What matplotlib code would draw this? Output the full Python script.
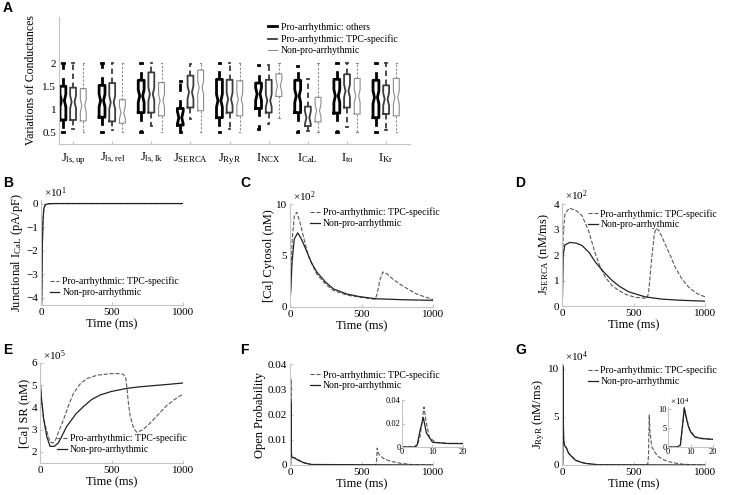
import matplotlib
matplotlib.use('Agg')
import matplotlib.pyplot as plt

plt.rcParams['font.family'] = 'Liberation Serif'
plt.rcParams['mathtext.fontset'] = 'custom'
plt.rcParams['mathtext.rm'] = 'Liberation Serif'
plt.rcParams['mathtext.it'] = 'Liberation Serif:italic'

# ---------------- panel A: box plot data ----------------
group_labels = [r'J$_{\mathrm{ls,up}}$', r'J$_{\mathrm{ls,rel}}$', r'J$_{\mathrm{ls,lk}}$',
                r'J$_{\mathrm{SERCA}}$', r'J$_{\mathrm{RyR}}$', r'I$_{\mathrm{NCX}}$',
                r'I$_{\mathrm{CaL}}$', r'I$_{\mathrm{to}}$', r'I$_{\mathrm{Kr}}$']
series_names = ['Pro-arrhythmic: others', 'Pro-arrhythmic: TPC-specific', 'Non-pro-arrhythmic']

med_oth = [1.19, 1.19, 1.29, 0.82, 1.19, 1.33, 1.29, 1.29, 1.26]
q1_oth = [0.77, 0.83, 0.93, 0.66, 0.82, 1.02, 0.93, 0.92, 0.82]
q3_oth = [1.50, 1.52, 1.63, 1.02, 1.65, 1.57, 1.63, 1.65, 1.63]
lo_oth = [0.50, 0.50, 0.50, 0.50, 0.50, 0.57, 0.50, 0.50, 0.50]
hi_oth = [2.00, 2.00, 2.00, 1.62, 2.00, 1.97, 1.94, 2.00, 2.00]

med_tpc = [1.16, 1.15, 1.33, 1.37, 1.22, 1.19, 0.82, 1.40, 1.22]
q1_tpc = [0.77, 0.74, 0.93, 1.04, 0.93, 0.93, 0.64, 1.04, 0.90]
q3_tpc = [1.47, 1.57, 1.80, 1.73, 1.64, 1.64, 1.06, 1.76, 1.52]
lo_tpc = [0.57, 0.55, 0.64, 0.79, 0.57, 0.68, 0.54, 0.61, 0.55]
hi_tpc = [2.00, 2.00, 2.00, 1.98, 2.00, 1.97, 1.65, 2.00, 2.00]

med_non = [1.08, 0.93, 1.19, 1.47, 1.22, 1.51, 0.97, 1.29, 1.26]
q1_non = [0.75, 0.70, 0.86, 0.97, 0.86, 1.28, 0.73, 0.90, 0.86]
q3_non = [1.45, 1.21, 1.58, 1.85, 1.62, 1.77, 1.26, 1.67, 1.67]
lo_non = [0.50, 0.50, 0.50, 0.50, 0.50, 0.82, 0.50, 0.52, 0.50]
hi_non = [2.00, 2.00, 2.00, 2.00, 2.00, 2.00, 2.00, 2.00, 2.00]

notch_half = [0.14, 0.14, 0.14, 0.14, 0.14, 0.14, 0.14, 0.14, 0.14]

# ---------------- time courses (t in ms) ----------------
leg_names = ['Pro-arrhythmic: TPC-specific', 'Non-pro-arrhythmic']

# B: junctional I_CaL (x10 pA/pF)
tB_tpc = [0, 2, 4, 6, 8, 10, 14, 20, 30, 50, 100, 1000]
vB_tpc = [0, -1.4, -4.2, -3.6, -2.7, -1.8, -0.8, -0.25, -0.06, -0.01, 0, 0]
tB_non = [0, 2, 3.5, 6, 8, 10, 14, 20, 30, 50, 100, 1000]
vB_non = [0, -1.5, -4.3, -3.5, -2.5, -1.6, -0.7, -0.2, -0.05, -0.01, 0, 0]

# C: [Ca] cytosol (x100 nM)
tC_tpc = [0, 5, 15, 30, 47, 70, 100, 130, 187, 250, 304, 400, 490, 595, 610, 630, 650,
          680, 720, 771, 830, 888, 950, 1000]
vC_tpc = [0.5, 2.0, 6.5, 8.8, 9.2, 8.2, 6.5, 4.9, 3.2, 2.2, 1.6, 1.15, 0.95, 0.75, 1.3,
          2.7, 3.4, 3.2, 2.7, 2.2, 1.7, 1.25, 0.95, 0.75]
tC_non = [0, 5, 15, 30, 54, 80, 117, 150, 187, 250, 304, 400, 490, 600, 800, 1000]
vC_non = [0.5, 1.5, 4.5, 6.6, 7.2, 6.6, 5.4, 4.3, 3.4, 2.4, 1.75, 1.25, 1.0, 0.8, 0.7, 0.65]

# D: J_SERCA (x100 nM/ms)
tD_tpc = [0, 3, 8, 20, 50, 100, 140, 186, 233, 270, 302, 350, 395, 450, 512, 593, 605,
          615, 628, 645, 656, 680, 721, 760, 791, 840, 884, 940, 1000]
vD_tpc = [0, 0.3, 2.8, 3.6, 3.85, 3.75, 3.55, 2.96, 2.05, 1.5, 1.14, 0.8, 0.62, 0.45,
          0.34, 0.3, 0.5, 1.1, 1.9, 2.8, 3.05, 2.95, 2.44, 1.95, 1.53, 1.05, 0.75, 0.5, 0.36]
tD_non = [0, 3, 8, 20, 55, 100, 140, 190, 233, 290, 349, 400, 465, 581, 700, 814, 1000]
vD_non = [0, 0.3, 2.0, 2.4, 2.5, 2.47, 2.38, 2.1, 1.73, 1.35, 1.01, 0.78, 0.56, 0.36,
          0.27, 0.23, 0.19]

# E: [Ca] SR (x1e5 nM)
tE_tpc = [0, 10, 25, 47, 70, 90, 110, 130, 164, 200, 234, 280, 327, 400, 490, 560, 584,
          600, 607, 618, 631, 655, 678, 720, 771, 830, 888, 950, 1000]
vE_tpc = [5.3, 4.4, 3.5, 2.95, 2.45, 2.4, 2.55, 2.9, 3.44, 4.1, 4.63, 5.05, 5.3, 5.45,
          5.52, 5.52, 5.49, 5.3, 4.93, 4.2, 3.6, 3.05, 2.88, 3.0, 3.3, 3.7, 4.1, 4.4, 4.6]
tE_non = [0, 10, 25, 47, 70, 100, 128, 160, 187, 250, 304, 360, 420, 500, 607, 700, 771,
          900, 1000]
vE_non = [5.3, 4.4, 3.5, 2.7, 2.25, 2.25, 2.4, 2.8, 3.15, 3.7, 4.04, 4.35, 4.56, 4.72,
          4.86, 4.93, 4.97, 5.04, 5.1]

# F: RyR open probability
tF_tpc = [0, 4, 5, 6, 7.2, 8, 9, 11, 15, 30, 60, 100, 150, 600, 605, 610, 615, 625, 654,
          700, 771, 850, 1000]
vF_tpc = [0, 0, 0.001, 0.01, 0.034, 0.02, 0.008, 0.004, 0.003, 0.003, 0.002, 0.0009,
          0.0002, 0, 0.001, 0.0067, 0.005, 0.004, 0.0026, 0.0015, 0.0007, 0.0002, 0]
tF_non = [0, 4, 5, 6, 7, 8, 10, 15, 30, 60, 100, 150, 1000]
vF_non = [0, 0, 0.002, 0.015, 0.025, 0.012, 0.004, 0.003, 0.0028, 0.0018, 0.0008, 0.0002, 0]

# G: J_RyR (x1e4 nM/ms)
tG_tpc = [0, 4, 5.5, 6.5, 7.3, 8, 9, 10, 12, 15, 20, 30, 47, 93, 130, 163, 250, 580, 600,
          605, 610, 615, 628, 650, 674, 710, 744, 800, 837, 900, 1000]
vG_tpc = [0, 0, 0.4, 5.5, 10.4, 8.3, 5.8, 4.2, 2.7, 2.3, 2.0, 1.8, 1.2, 0.5, 0.3, 0.17,
          0.03, 0, 0.1, 1.0, 5.2, 3.5, 1.9, 1.3, 0.87, 0.55, 0.35, 0.18, 0.1, 0.04, 0]
tG_non = [0, 4, 5.5, 6.5, 7.2, 8, 9, 10, 12, 15, 20, 30, 47, 93, 130, 163, 250, 1000]
vG_non = [0, 0, 0.5, 6, 10.2, 8, 5.5, 4, 2.6, 2.2, 2.0, 1.8, 1.2, 0.5, 0.3, 0.17, 0.03, 0]

W, H = 745, 495
fig = plt.figure(figsize=(W / 100, H / 100), dpi=100)
SPINE = '#c4c4c4'
C_DASH = '#5a5a5a'
C_SOLID = '#222222'


def px_axes(x0, y0, x1, y1):
    return fig.add_axes([x0 / W, 1 - y1 / H, (x1 - x0) / W, (y1 - y0) / H])


def style(ax, fs=8):
    for s in ['top', 'right']:
        ax.spines[s].set_visible(False)
    for s in ['left', 'bottom']:
        ax.spines[s].set_color(SPINE)
        ax.spines[s].set_linewidth(0.8)
    ax.tick_params(direction='in', length=2, color=SPINE, labelsize=fs, pad=2)


# ---- A ----
axA = px_axes(59, 17, 410, 144)
style(axA)
colors = ['#000000', '#3c3c3c', '#8c8c8c']
lws = [2.0, 1.3, 0.8]
dashes = [(0, (3, 3)), (0, (3, 2)), (0, (2, 1.5))]
offsets = [-0.26, 0, 0.26]
stats_sets = [(med_oth, q1_oth, q3_oth, lo_oth, hi_oth),
              (med_tpc, q1_tpc, q3_tpc, lo_tpc, hi_tpc),
              (med_non, q1_non, q3_non, lo_non, hi_non)]
for k, (med, q1, q3, lo, hi) in enumerate(stats_sets):
    stats = []
    for i in range(9):
        stats.append(dict(med=med[i], q1=q1[i], q3=q3[i], whislo=lo[i], whishi=hi[i],
                          cilo=max(q1[i], med[i] - notch_half[i]),
                          cihi=min(q3[i], med[i] + notch_half[i]), fliers=[]))
    c, lw = colors[k], lws[k]
    axA.bxp(stats, positions=[i + 1 + offsets[k] for i in range(9)], widths=0.15,
            shownotches=True, showfliers=False, capwidths=0.035,
            boxprops=dict(color=c, lw=lw), medianprops=dict(color=c, lw=0),
            whiskerprops=dict(color=c, lw=lw, ls=dashes[k]),
            capprops=dict(color=c, lw=lw))
    axA.plot([], [], color=c, lw=lw, label=series_names[k])
axA.set_xlim(0.64, 9.61)
axA.set_ylim(0.25, 3.0)
axA.set_yticks([0.5, 1, 1.5, 2])
axA.set_yticklabels(['0.5', '1', '1.5', '2'])
axA.set_xticks(range(1, 10))
axA.set_xticklabels(group_labels, fontsize=9)
axA.tick_params(axis='x', pad=5)
axA.set_ylabel('Variations of Conductances', fontsize=8.5)
axA.legend(loc='upper left', bbox_to_anchor=(0.58, 1.0), frameon=False, fontsize=7,
           handlelength=0.9, handletextpad=0.4, labelspacing=0.25, borderpad=0.1)


def ts_panel(rect, t1, v1, t2, v2, ylim, yticks, ylabel, expo, leg_loc, leg_anchor):
    ax = px_axes(*rect)
    style(ax)
    ax.plot(t1, v1, ls='--', color=C_DASH, lw=0.8, label=leg_names[0])
    ax.plot(t2, v2, ls='-', color=C_SOLID, lw=0.9, label=leg_names[1])
    ax.set_xlim(0, 1000)
    ax.set_ylim(*ylim)
    ax.set_xticks([0, 500, 1000])
    ax.set_yticks(yticks)
    ax.set_xlabel('Time (ms)', fontsize=9, labelpad=1)
    ax.set_ylabel(ylabel, fontsize=9, labelpad=1)
    if expo:
        ax.text(0.02, 1.0, expo, transform=ax.transAxes, fontsize=8, va='bottom')
    ax.legend(loc=leg_loc, bbox_to_anchor=leg_anchor, frameon=False, fontsize=7,
              handlelength=1.0, handletextpad=0.3, labelspacing=0.2, borderpad=0.1)
    return ax


axB = ts_panel((41, 200, 183, 305), tB_tpc, vB_tpc, tB_non, vB_non, (-4.3, 0.15),
               [-4, -3, -2, -1, 0], r'Junctional I$_{\mathrm{CaL}}$ (pA/pF)',
               r'$\times10^{1}$', 'lower left', (0.02, 0.02))
axC = ts_panel((290, 204, 433, 307), tC_tpc, vC_tpc, tC_non, vC_non, (0, 10),
               [0, 5, 10], '[Ca] Cytosol (nM)', r'$\times10^{2}$', 'upper left', (0.1, 1.02))
axD = ts_panel((562, 203, 705, 306), tD_tpc, vD_tpc, tD_non, vD_non, (0, 4.05),
               [0, 1, 2, 3, 4], r'J$_{\mathrm{SERCA}}$ (nM/ms)', r'$\times10^{2}$',
               'upper left', (0.14, 1.0))
axE = ts_panel((40, 363, 183, 463), tE_tpc, vE_tpc, tE_non, vE_non, (1.5, 6),
               [2, 3, 4, 5, 6], '[Ca] SR (nM)', r'$\times10^{5}$', 'lower left', (0.08, 0.03))
axF = ts_panel((290, 364, 433, 465), tF_tpc, vF_tpc, tF_non, vF_non, (0, 0.04),
               [0, 0.01, 0.02, 0.03, 0.04], 'Open Probability', None, 'upper left',
               (0.1, 1.0))
axF.set_yticklabels(['0', '0.01', '0.02', '0.03', '0.04'])
axG = ts_panel((562, 364, 705, 465), tG_tpc, vG_tpc, tG_non, vG_non, (0, 10.5),
               [0, 5, 10], r'J$_{\mathrm{RyR}}$ (nM/ms)', r'$\times10^{4}$', 'upper left',
               (0.14, 1.04))


def inset(rect, t1, v1, t2, v2, ylim, yticks, yticklabels, expo):
    ax = px_axes(*rect)
    style(ax, fs=6)
    ax.plot(t1, v1, ls='--', color=C_DASH, lw=0.8)
    ax.plot(t2, v2, ls='-', color=C_SOLID, lw=0.9)
    ax.set_xlim(0, 20)
    ax.set_ylim(*ylim)
    ax.set_xticks([0, 10, 20])
    ax.set_yticks(yticks)
    ax.set_yticklabels(yticklabels)
    ax.tick_params(pad=1)
    if expo:
        ax.text(0.05, 1.0, expo, transform=ax.transAxes, fontsize=6.5, va='bottom')
    return ax


inset((402, 400, 463, 447), tF_tpc, vF_tpc, tF_non, vF_non, (0, 0.04), [0, 0.02, 0.04],
      ['0', '0.02', '0.04'], None)
inset((668, 407, 713, 447), tG_tpc, vG_tpc, tG_non, vG_non, (0, 10.5), [0, 5, 10],
      ['0', '5', '10'], r'$\times10^{4}$')

# panel letters
for lab, x, y in [('A', 3, 8), ('B', 3, 183), ('C', 240, 183), ('D', 515, 183),
                  ('E', 3, 350), ('F', 240, 350), ('G', 515, 350)]:
    fig.text(x / W, 1 - y / H, lab, fontsize=10, fontweight='bold',
             family='Liberation Sans', va='center', ha='left')

fig.savefig('out.png', dpi=100)
